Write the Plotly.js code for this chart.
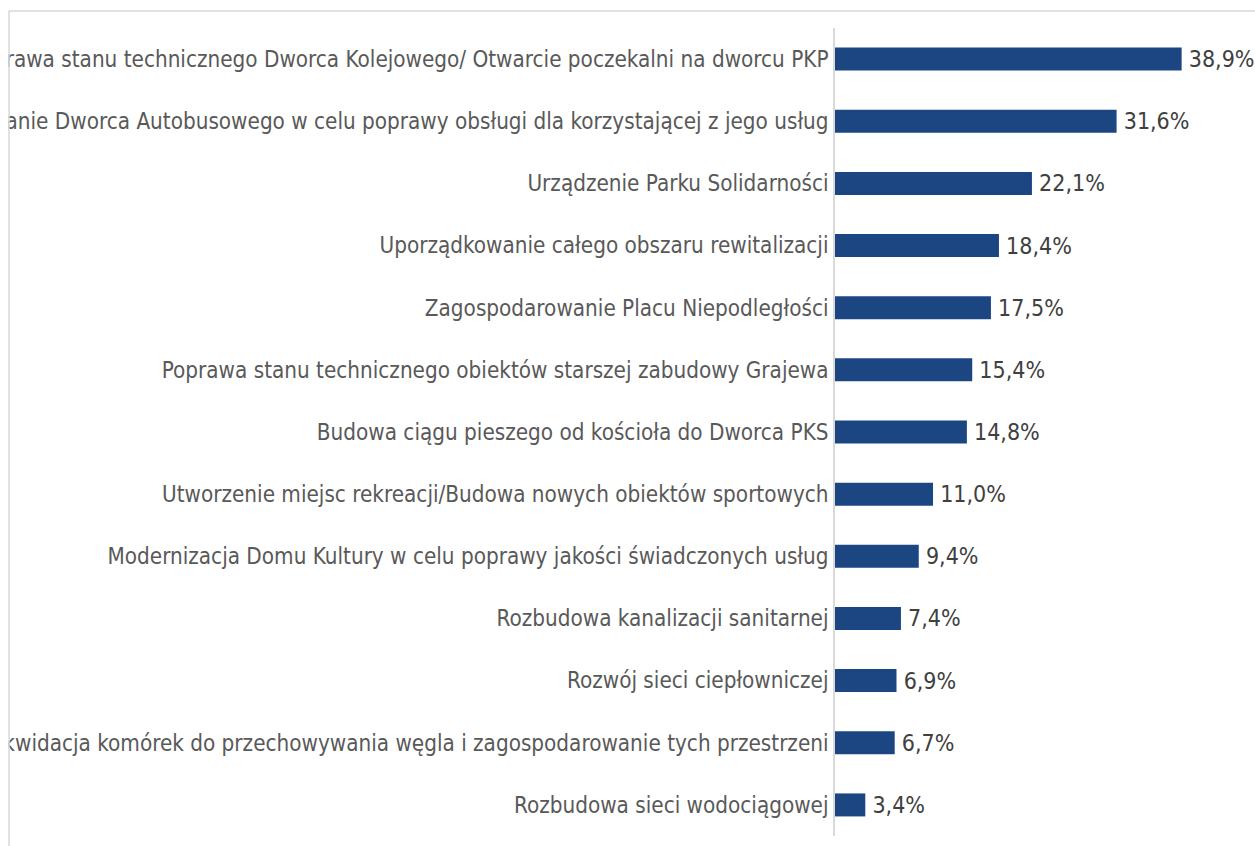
<!DOCTYPE html>
<html>
<head>
<meta charset="utf-8">
<script src="https://cdn.plot.ly/plotly-3.0.1.min.js"></script>
<style>html,body{margin:0;padding:0;background:#fff;}#chart{width:1255px;height:846px;}</style>
</head>
<body>
<div id="chart"></div>
<script>
const categories = [
  "Poprawa stanu technicznego Dworca Kolejowego/ Otwarcie poczekalni na dworcu PKP",
  "Zagospodarowanie Dworca Autobusowego w celu poprawy obsługi dla korzystającej z jego usług",
  "Urządzenie Parku Solidarności",
  "Uporządkowanie całego obszaru rewitalizacji",
  "Zagospodarowanie Placu Niepodległości",
  "Poprawa stanu technicznego obiektów starszej zabudowy Grajewa",
  "Budowa ciągu pieszego od kościoła do Dworca PKS",
  "Utworzenie miejsc rekreacji/Budowa nowych obiektów sportowych",
  "Modernizacja Domu Kultury w celu poprawy jakości świadczonych usług",
  "Rozbudowa kanalizacji sanitarnej",
  "Rozwój sieci ciepłowniczej",
  "Likwidacja komórek do przechowywania węgla i zagospodarowanie tych przestrzeni",
  "Rozbudowa sieci wodociągowej"
];
const values = [38.9, 31.6, 22.1, 18.4, 17.5, 15.4, 14.8, 11.0, 9.4, 7.4, 6.9, 6.7, 3.4];
const valueLabels = values.map(v => '\u2009' + v.toFixed(1).replace('.', ',') + '%');

const W = 1255, H = 846;
const M = {l: 835, r: 19, t: 28, b: 10};
const pw = W - M.l - M.r, ph = H - M.t - M.b;
const px = x => (x - M.l) / pw;
const py = y => (H - M.b - y) / ph;

const FONT = "Liberation Sans Narrow, Arial Narrow, DejaVu Sans Condensed, sans-serif";

Plotly.newPlot('chart', [{
  type: 'bar',
  orientation: 'h',
  x: values,
  y: categories,
  text: valueLabels,
  textposition: 'outside',
  constraintext: 'none',
  cliponaxis: false,
  textfont: {family: FONT, size: 23, color: '#404040'},
  marker: {color: '#1c4682'},
  hoverinfo: 'none'
}], {
  width: W, height: H,
  margin: M,
  paper_bgcolor: '#ffffff',
  plot_bgcolor: '#ffffff',
  showlegend: false,
  bargap: 0.63,
  xaxis: {range: [0, 45], visible: false, fixedrange: true},
  yaxis: {
    autorange: 'reversed',
    showline: true, linecolor: '#d9d9d9', linewidth: 2,
    showgrid: false, zeroline: false, ticks: '',
    ticklabelstandoff: 0,
    tickfont: {family: FONT, size: 22.3, color: '#595959'},
    fixedrange: true
  },
  shapes: [
    {type: 'rect', xref: 'paper', yref: 'paper', layer: 'above',
     x0: px(-20), x1: px(8.5), y0: py(H + 20), y1: py(-20),
     fillcolor: '#ffffff', line: {width: 0}},
    {type: 'rect', xref: 'paper', yref: 'paper', layer: 'above',
     x0: px(-20), x1: px(W + 20), y0: py(10.5), y1: py(-20),
     fillcolor: '#ffffff', line: {width: 0}},
    {type: 'line', xref: 'paper', yref: 'paper', layer: 'above',
     x0: px(9), x1: px(W + 20), y0: py(11), y1: py(11),
     line: {color: '#d9d9d9', width: 1.5}},
    {type: 'line', xref: 'paper', yref: 'paper', layer: 'above',
     x0: px(9), x1: px(9), y0: py(11), y1: py(H + 20),
     line: {color: '#d9d9d9', width: 1.5}}
  ]
}, {displayModeBar: false, staticPlot: true});
</script>
</body>
</html>
